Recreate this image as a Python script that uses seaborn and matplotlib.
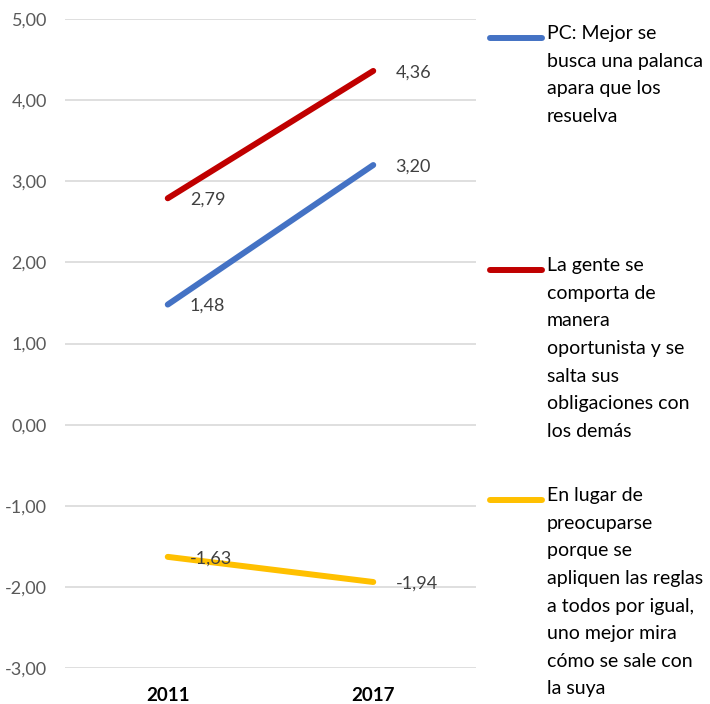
"""
Line chart: Excel-like slope chart 2011 vs 2017
"""
import matplotlib
matplotlib.use('Agg')
import matplotlib.pyplot as plt
import seaborn as sns
import pandas as pd
from matplotlib.lines import Line2D

years = ["2011", "2017"]
series_names = [
    "PC: Mejor se\nbusca una palanca\napara que los\nresuelva",
    "La gente se\ncomporta de\nmanera\noportunista y se\nsalta sus\nobligaciones con\nlos demás",
    "En lugar de\npreocuparse\nporque se\napliquen las reglas\na todos por igual,\nuno mejor mira\ncómo se sale con\nla suya",
]
pc_values = [1.48, 3.20]
gente_values = [2.79, 4.36]
reglas_values = [-1.63, -1.94]
colors = ["#4472C4", "#C00000", "#FFC000"]
y_ticks = [-3, -2, -1, 0, 1, 2, 3, 4, 5]

sns.set_theme(style="white")
plt.rcParams['font.family'] = ['Lato', 'DejaVu Sans']

rows = []
for name, vals in zip(series_names, [pc_values, gente_values, reglas_values]):
    for yr, v in zip(years, vals):
        rows.append({"year": yr, "value": v, "series": name})
df = pd.DataFrame(rows)

fig = plt.figure(figsize=(7.1, 7.04), dpi=100)
ax = fig.add_axes([65 / 710, 1 - 668 / 704, 411 / 710, 649 / 704])

sns.lineplot(data=df, x="year", y="value", hue="series", palette=colors,
             linewidth=4.3, sort=False, legend=False, ax=ax,
             solid_capstyle='round')

ax.set_xlim(-0.5, 1.5)
ax.set_ylim(-3, 5)
ax.set_yticks(y_ticks)
ax.set_yticklabels([f"{t:.2f}".replace(".", ",") for t in y_ticks],
                   color="#595959", fontsize=13)
ax.set_xticks([0, 1])
ax.set_xticklabels(years, fontweight='bold', fontsize=13.5, color="black")
ax.tick_params(axis='y', length=0, pad=13)
ax.tick_params(axis='x', length=0, pad=14)
ax.set_xlabel("")
ax.set_ylabel("")
ax.grid(axis='y', color="#D9D9D9", linewidth=1.2)
ax.set_axisbelow(True)
for s in ax.spines.values():
    s.set_visible(False)

# data labels to the right of each point
for vals in [pc_values, gente_values, reglas_values]:
    for i, v in enumerate(vals):
        ax.annotate(f"{v:.2f}".replace(".", ","), (i, v), xytext=(16, -1),
                    textcoords='offset points', va='center', ha='left',
                    fontsize=13, color="#404040")

# legend drawn manually, Excel style
legend_tops = [38, 270, 500]
for name, col, ytop in zip(series_names, colors, legend_tops):
    yf = 1 - ytop / 704
    fig.add_artist(Line2D([490 / 710, 542 / 710], [yf, yf], color=col,
                          linewidth=4.3, solid_capstyle='round',
                          transform=fig.transFigure))
    fig.text(547 / 710, yf + 13 / 704, name, ha='left', va='top',
             fontsize=14, color="black", linespacing=1.76)

fig.savefig("out.png", dpi=100)
